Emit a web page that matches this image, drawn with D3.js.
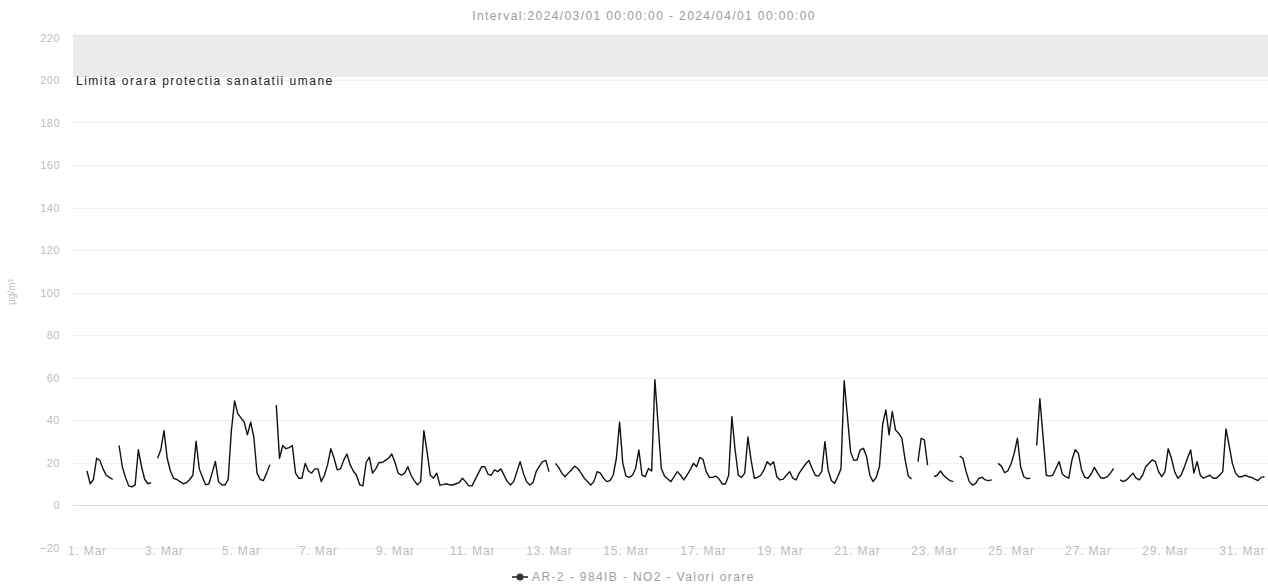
<!DOCTYPE html>
<html>
<head>
<meta charset="utf-8">
<script src="https://cdn.jsdelivr.net/npm/d3@7"></script>
<style>
  body { margin: 0; background: #fff; }
  svg { display: block; font-family: "Liberation Sans", Arial, sans-serif; }
</style>
</head>
<body>
<svg id="chart" width="1268" height="586"></svg>
<script>
var title = "Interval:2024/03/01 00:00:00 - 2024/04/01 00:00:00";
var seriesName = "AR-2 - 984IB - NO2 - Valori orare";
var bandLabel = "Limita orara protectia sanatatii umane";
var bandFrom = 200,
  bandTo = 220;
var yTicks = [-20, 0, 20, 40, 60, 80, 100, 120, 140, 160, 180, 200, 220];
var xTickDays = [1, 3, 5, 7, 9, 11, 13, 15, 17, 19, 21, 23, 25, 27, 29, 31];
var startDate = new Date(2024, 2, 1, 0, 0);
var endDate = new Date(2024, 3, 1, 0, 0);
var stepHours = 2;

// NO2 ug/m3, one value every 2 hours, one row per day
var no2 = [
  16, 10, 12, 22, 21, 17, 14, 13, 12, null, 28, 18,
  13, 9, 8.5, 9.5, 26, 18, 12, 10, 10.5, null, 22, 26,
  35, 22, 16, 12.5, 12, 11, 10, 10.5, 12, 14, 30, 17,
  13, 9.5, 10, 15, 20.5, 11, 9.5, 9.4, 12, 35, 49, 43,
  41, 39, 33, 39, 32, 15, 12, 11.5, 15, 19, null, 47,
  22, 28, 26.5, 27, 28, 15, 12.6, 12.6, 19.6, 16, 15, 17,
  17, 11, 14, 19, 26.5, 22, 16.5, 17, 21, 24, 19, 16,
  14, 9.5, 9, 20, 22.5, 15, 17, 20, 20, 21, 22, 24,
  20, 15, 14, 15, 18, 14, 11.5, 9.5, 11, 35, 25, 14,
  12.6, 15, 9.4, 9.6, 10, 9.5, 9.4, 10, 10.5, 12.6, 11, 9,
  9, 12, 15, 18, 18, 14.5, 14, 16.5, 15.7, 17, 14, 11,
  9.4, 11, 15.7, 20.4, 15, 11, 9.4, 10.5, 15.7, 18.3, 20.4, 21,
  15.7, null, 19.6, 17.7, 15, 13.3, 15, 16.5, 18.3, 17.2, 15, 12.6,
  11, 9.4, 11, 15.7, 15, 12.6, 11, 11.5, 14, 22, 39, 19.6,
  13.6, 13, 14, 17.2, 25.9, 14, 13.3, 17.2, 16, 59, 38, 17.2,
  13.6, 12.2, 11, 13.3, 15.7, 14, 11.8, 14, 16.5, 19.6, 18, 22.4,
  21.5, 15.7, 13, 13, 13.6, 12.2, 9.9, 9.9, 14, 41.6, 26, 14,
  13, 15, 32, 21, 12.6, 13, 14, 16.5, 20.4, 18.8, 20.4, 13.3,
  11.8, 12.2, 14, 15.7, 12.6, 11.8, 15, 17.2, 19.3, 21, 17.2, 14,
  13.6, 15.7, 29.8, 16.5, 11.5, 10.2, 13.3, 17, 58.5, 42, 25, 21,
  21.2, 25.9, 26.7, 22.7, 14, 11, 13, 18, 38, 44.7, 33, 44,
  35.3, 33.7, 31.4, 21.2, 13.6, 12.2, null, 20.4, 31.4, 30.6, 18.8, null,
  13.3, 14, 16, 14, 12.6, 11.5, 11, null, 23, 22, 15.7, 11,
  9.4, 10.2, 12.6, 13, 11.8, 11.5, 11.8, null, 19.6, 18.3, 15.2, 16,
  19.3, 24.3, 31.4, 18, 13.3, 12.4, 12.6, null, 28, 50, 32, 14,
  13.6, 14, 17.2, 20.4, 14.6, 13.3, 12.6, 21.2, 26, 24.3, 16.5, 13,
  12.6, 14.6, 17.7, 15, 12.8, 12.6, 13.3, 15, 17.2, null, 11.8, 11,
  11.8, 13.3, 15, 12.6, 11.8, 14, 18, 19.6, 21.2, 20.4, 15.7, 13.3,
  15.7, 26.5, 22, 15.7, 12.6, 14, 17.7, 22, 25.9, 15, 20.4, 14,
  12.6, 13.3, 14, 12.6, 12.6, 14, 15.7, 35.8, 28, 19.6, 15, 13.3,
  13.3, 14, 13.3, 13, 12.2, 11.5, 13, 13.3
];

var W = 1268,
  H = 586,
  plotLeft = 73,
  plotRight = W;

var svg = d3.select("#chart");

var x = d3.scaleTime().domain([startDate, endDate]).range([87, 87 + 31 * 38.5]);
var y = d3.scaleLinear().domain([-20, 220]).range([547.5, 37.5]);

var data = no2.map(function (v, i) {
  return { date: d3.timeHour.offset(startDate, i * stepHours), v: v };
});

// title
svg.append("text")
  .attr("x", 644)
  .attr("y", 20)
  .attr("text-anchor", "middle")
  .attr("font-size", 12)
  .attr("letter-spacing", 1.4)
  .attr("fill", "#9a9a9a")
  .text(title);

// plot band 200-220
svg.append("rect")
  .attr("x", plotLeft)
  .attr("y", y(bandTo) - 3)
  .attr("width", plotRight - plotLeft)
  .attr("height", y(bandFrom) - y(bandTo))
  .attr("fill", "#ebebeb");

// grid
svg.append("g")
  .selectAll("line")
  .data(yTicks)
  .enter()
  .append("line")
  .attr("x1", plotLeft)
  .attr("x2", plotRight)
  .attr("y1", function (d) { return Math.round(y(d)) + 0.5; })
  .attr("y2", function (d) { return Math.round(y(d)) + 0.5; })
  .attr("stroke", function (d) { return d === 0 ? "#dedede" : "#f0f0f0"; })
  .attr("stroke-width", 1);

svg.append("text")
  .attr("x", 76)
  .attr("y", 85)
  .attr("font-size", 12)
  .attr("letter-spacing", 1.5)
  .attr("fill", "#222")
  .text(bandLabel);

// y axis
var yAxis = svg.append("g")
  .attr("transform", "translate(64,0)")
  .call(d3.axisLeft(y).tickValues(yTicks).tickSize(0).tickPadding(4));
yAxis.select(".domain").remove();
yAxis.selectAll("text")
  .attr("font-size", 11)
  .attr("letter-spacing", 0.5)
  .attr("font-family", "Liberation Sans, Arial, sans-serif")
  .attr("fill", "#bdbdbd");

svg.append("text")
  .attr("transform", "translate(15,292) rotate(-90)")
  .attr("text-anchor", "middle")
  .attr("font-size", 10)
  .attr("fill", "#bdbdbd")
  .text("µg/m³");

// x axis
var xAxis = svg.append("g")
  .attr("transform", "translate(0,538)")
  .call(
    d3.axisBottom(x)
      .tickValues(xTickDays.map(function (d) { return new Date(2024, 2, d); }))
      .tickFormat(d3.timeFormat("%-d. %b"))
      .tickSize(0)
      .tickPadding(8)
  );
xAxis.select(".domain").remove();
xAxis.selectAll("text")
  .attr("font-size", 12)
  .attr("letter-spacing", 0.8)
  .attr("font-family", "Liberation Sans, Arial, sans-serif")
  .attr("fill", "#bdbdbd");

// series
var line = d3.line()
  .defined(function (d) { return d.v != null; })
  .x(function (d) { return x(d.date); })
  .y(function (d) { return y(d.v); });

svg.append("path")
  .datum(data)
  .attr("d", line)
  .attr("fill", "none")
  .attr("stroke", "#111")
  .attr("stroke-width", 1.4)
  .attr("stroke-linejoin", "round");

// legend
var lg = svg.append("g").attr("transform", "translate(512,577)");
lg.append("line")
  .attr("x1", 0).attr("x2", 16)
  .attr("stroke", "#555").attr("stroke-width", 2);
lg.append("circle")
  .attr("cx", 8).attr("r", 3.5)
  .attr("fill", "#333");
lg.append("text")
  .attr("x", 20)
  .attr("y", 4)
  .attr("font-size", 12)
  .attr("letter-spacing", 1.4)
  .attr("fill", "#a0a0a0")
  .text(seriesName);
</script>
</body>
</html>
